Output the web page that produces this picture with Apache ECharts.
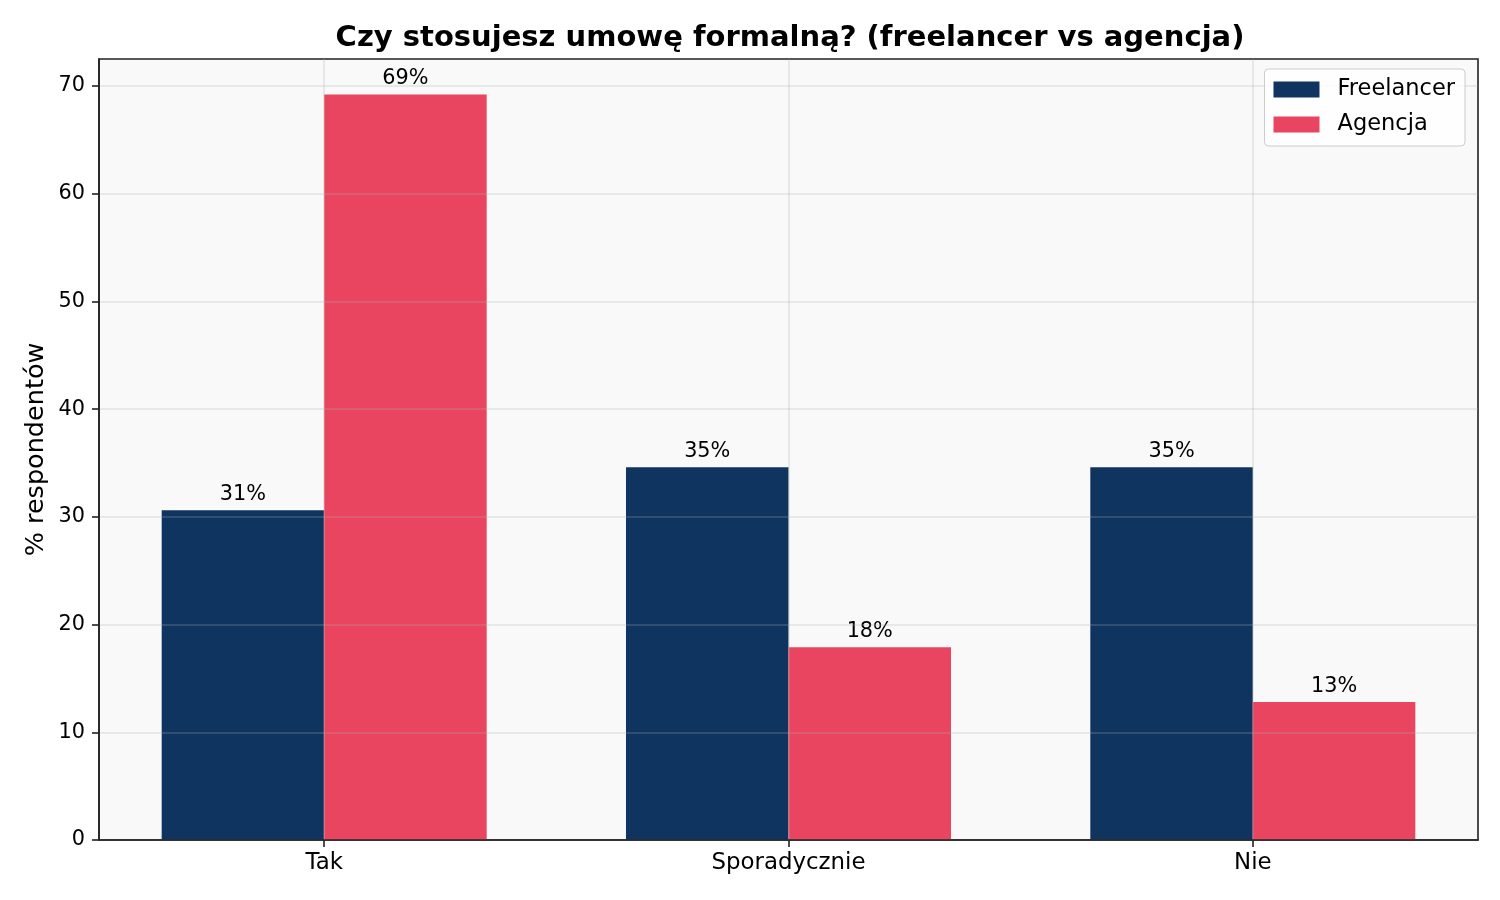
<!DOCTYPE html>
<html>
<head>
<meta charset="utf-8">
<script src="https://cdn.jsdelivr.net/npm/echarts@6/dist/echarts.min.js"></script>
<style>
  html, body { margin: 0; padding: 0; background: #fff; }
  #chart { width: 1500px; height: 900px; }
</style>
</head>
<body>
<div id="chart"></div>
<script>
// odpowiedzi na pytanie (oś X)
const categories = ['Tak', 'Sporadycznie', 'Nie']
// % respondentów
const freelancer = [30.6, 34.6, 34.6]
const agencja = [69.2, 17.9, 12.8]
const seriesNames = ['Freelancer', 'Agencja']
const yTicks = [0, 10, 20, 30, 40, 50, 60, 70]

const font = 'DejaVu Sans'
const chart = echarts.init(document.getElementById('chart'))

const gridColor = 'rgba(176,176,176,0.3)'

const makeSeries = (name, values, color) => ({
	name,
	type: 'bar',
	data: values.map((v, i) => [i, v]),
	barWidth: '35%',
	barGap: '0%',
	z: 2,
	itemStyle: { color },
	label: {
		show: true,
		position: 'top',
		distance: 5,
		color: '#000',
		fontFamily: font,
		fontSize: 20.8,
		formatter: p => Math.round(p.value[1]) + '%',
	},
})

const option = {
	animation: false,
	backgroundColor: '#fff',
	textStyle: { fontFamily: font },
	title: {
		text: 'Czy stosujesz umowę formalną? (freelancer vs agencja)',
		left: 785,
		textAlign: 'center',
		top: 19,
		textStyle: { fontFamily: font, fontSize: 29, fontWeight: 'bold', color: '#000' },
	},
	grid: {
		left: 99,
		right: 22,
		top: 59,
		bottom: 60,
		show: true,
		backgroundColor: '#f9f9f9',
		borderColor: '#222',
		borderWidth: 1.6,
	},
	legend: {
		orient: 'vertical',
		right: 35,
		top: 69,
		data: seriesNames,
		icon: 'rect',
		itemWidth: 46,
		itemHeight: 16,
		itemGap: 12,
		padding: [9, 10, 10, 9],
		borderColor: '#ccc',
		borderWidth: 1,
		borderRadius: 4,
		backgroundColor: 'rgba(255,255,255,0.8)',
		textStyle: { fontFamily: font, fontSize: 22.5, color: '#000', padding: [0, 0, 0, 13] },
	},
	xAxis: {
		type: 'value',
		min: -0.485,
		max: 2.485,
		z: 3,
		axisLine: { show: true, onZero: false, lineStyle: { color: '#222', width: 1.6 } },
		axisTick: { show: true, length: 7, customValues: [0, 1, 2], lineStyle: { color: '#222', width: 1.6 } },
		axisLabel: {
			customValues: [0, 1, 2],
			formatter: v => categories[Math.round(v)],
			fontFamily: font,
			fontSize: 22.9,
			color: '#000',
			margin: 12,
		},
		splitLine: { show: true, lineStyle: { color: gridColor, width: 1.6 } },
	},
	yAxis: {
		type: 'value',
		min: 0,
		max: 72.5,
		interval: 10,
		z: 3,
		name: '% respondentów',
		nameLocation: 'middle',
		nameGap: 50,
		nameMoveOverlap: false,
		nameTextStyle: { fontFamily: font, fontSize: 25.5, color: '#000' },
		axisLine: { show: true, onZero: false, lineStyle: { color: '#222', width: 1.6 } },
		axisTick: { show: true, length: 7, customValues: yTicks, lineStyle: { color: '#222', width: 1.6 } },
		axisLabel: {
			customValues: yTicks,
			fontFamily: font,
			fontSize: 20.8,
			color: '#000',
			margin: 14,
		},
		splitLine: { show: true, lineStyle: { color: gridColor, width: 1.6 } },
	},
	series: [
		makeSeries(seriesNames[0], freelancer, '#0f3460'),
		makeSeries(seriesNames[1], agencja, '#e94560'),
	],
}

chart.setOption(option)
</script>
</body>
</html>
